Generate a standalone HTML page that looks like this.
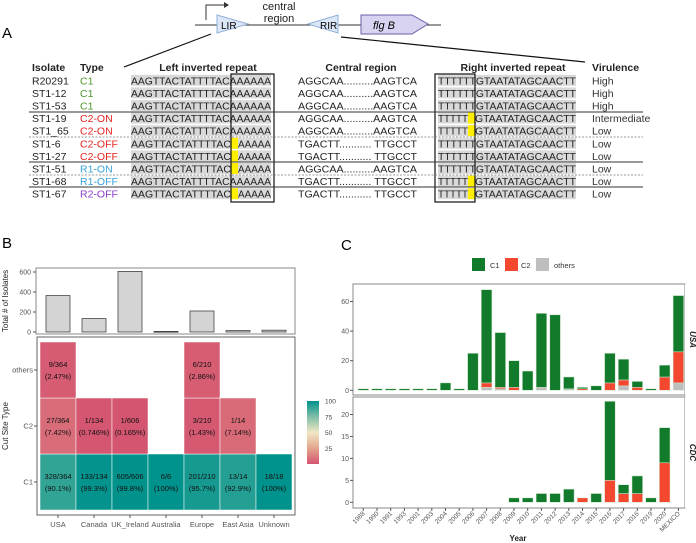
<!DOCTYPE html>
<html><head><meta charset="utf-8"><style>
html,body{margin:0;padding:0;background:#fff;}
svg{display:block;font-family:"Liberation Sans",sans-serif;}
</style></head><body>
<svg id="fig" width="696" height="543" viewBox="0 0 696 543" xmlns="http://www.w3.org/2000/svg">
<defs>
<linearGradient id="heatgrad" x1="0" y1="1" x2="0" y2="0">
<stop offset="0" stop-color="#d4546f"/><stop offset="0.25" stop-color="#e3a58c"/><stop offset="0.5" stop-color="#f1e7c6"/><stop offset="0.75" stop-color="#7fbfa6"/><stop offset="1" stop-color="#00928c"/>
</linearGradient>
</defs>
<!-- Panel A diagram -->
<g>
<text x="2" y="38" font-size="15">A</text>
<line x1="195" y1="25" x2="441" y2="25" stroke="#333" stroke-width="1"/>
<path d="M206 20 V5 H226" fill="none" stroke="#333" stroke-width="1"/>
<path d="M224 2 L229 5 L224 8 Z" fill="#333"/>
<polygon points="217,15 248,24 217,33" fill="#dde7f7" stroke="#8fb0d8"/>
<text x="221" y="29" font-size="10">LIR</text>
<text x="279" y="10" font-size="11" text-anchor="middle" fill="#222">central</text>
<text x="279" y="22" font-size="11" text-anchor="middle" fill="#222">region</text>
<polygon points="338,15 308,24 338,33" fill="#dde7f7" stroke="#8fb0d8"/>
<text x="320" y="29" font-size="10">RIR</text>
<polygon points="361,15 412,15 428,24 412,34 361,34" fill="#d8d3f0" stroke="#6b5fa8"/>
<text x="373" y="29" font-size="11" font-style="italic">flg B</text>
<line x1="211" y1="34" x2="124" y2="67" stroke="#111" stroke-width="1.2"/>
<line x1="341" y1="37" x2="585" y2="62" stroke="#111" stroke-width="1.2"/>
</g>
<g id="table" font-size="10.5" fill="#222"></g>
<!-- Panel B -->
<g id="panelB"></g>
<!-- Panel C -->
<g id="panelC"></g>
</svg>
<script>
// ===== Panel A table data =====
var isolates=["R20291","ST1-12","ST1-53","ST1-19","ST1_65","ST1-6","ST1-27","ST1-51","ST1-68","ST1-67"];
var types=["C1","C1","C1","C2-ON","C2-ON","C2-OFF","C2-OFF","R1-ON","R1-OFF","R2-OFF"];
var leftYellow=[0,0,0,0,0,1,1,1,0,1];
var rightYellow=[0,0,0,1,1,0,0,0,1,1];
var centralSeq=["AGGCAA..........AAGTCA","AGGCAA..........AAGTCA","AGGCAA..........AAGTCA","AGGCAA..........AAGTCA","AGGCAA..........AAGTCA","TGACTT........... TTGCCT","TGACTT........... TTGCCT","AGGCAA..........AAGTCA","TGACTT........... TTGCCT","TGACTT........... TTGCCT"];
var virulence=["High","High","High","Intermediate","Low","Low","Low","Low","Low","Low"];
var NS="http://www.w3.org/2000/svg";
function mk(tag,attrs,parent,txt){var e=document.createElementNS(NS,tag);for(var k in attrs)e.setAttribute(k,attrs[k]);if(txt!==undefined)e.textContent=txt;parent.appendChild(e);return e;}
function typeColor(t){if(t[0]==="R"&&t[1]==="1")return "#38a3d9";if(t[0]==="R")return "#8a3cc8";if(t.indexOf("C2")===0)return "#e3241f";return "#4a9a2a";}
(function(){
var g=document.getElementById('table');
var hdr=[["Isolate",32,"start"],["Type",80,"start"],["Left inverted repeat",208,"middle"],["Central region",361,"middle"],["Right inverted repeat",513,"middle"],["Virulence",592,"start"]];
hdr.forEach(function(h){var t=mk('text',{x:h[1],y:71,'text-anchor':h[2],'font-weight':'bold'},g,h[0]);

});
for(var i=0;i<isolates.length;i++){
var cy=80.3+12.6*i, by=cy+4;
var row=mk('g',{},g);


mk('rect',{x:131,y:cy-5.5,width:140,height:11,fill:'#d9d9d9'},row);
mk('rect',{x:438,y:cy-5.5,width:138,height:11,fill:'#d9d9d9'},row);
if(leftYellow[i])mk('rect',{x:231,y:cy-5.5,width:7,height:11,fill:'#ffee00'},row);
if(rightYellow[i])mk('rect',{x:468,y:cy-5.5,width:7,height:11,fill:'#ffee00'},row);
mk('text',{x:32,y:by},row,isolates[i]);
mk('text',{x:80,y:by,fill:typeColor(types[i])},row,types[i]);
if(leftYellow[i]){mk('text',{x:131,y:by,textLength:100,lengthAdjust:'spacingAndGlyphs'},row,"AAGTTACTATTTTAC");mk('text',{x:238,y:by,textLength:33,lengthAdjust:'spacingAndGlyphs'},row,"AAAAA");}
else mk('text',{x:131,y:by,textLength:140,lengthAdjust:'spacingAndGlyphs'},row,"AAGTTACTATTTTACAAAAAA");
mk('text',{x:298,y:by,textLength:119,lengthAdjust:'spacingAndGlyphs'},row,centralSeq[i]);
if(rightYellow[i]){mk('text',{x:438,y:by,textLength:30,lengthAdjust:'spacingAndGlyphs'},row,"TTTTT");mk('text',{x:475,y:by,textLength:101,lengthAdjust:'spacingAndGlyphs'},row,"GTAATATAGCAACTT");}
else mk('text',{x:438,y:by,textLength:138,lengthAdjust:'spacingAndGlyphs'},row,"TTTTTTGTAATATAGCAACTT");
mk('text',{x:592,y:by,fill:'#333'},row,virulence[i]);
}
mk('rect',{x:231,y:74,width:43,height:128,fill:'none',stroke:'#111','stroke-width':1.2},g);
mk('rect',{x:435,y:74,width:40,height:128,fill:'none',stroke:'#111','stroke-width':1.2},g);
[[112,0],[137,1],[162,0],[175,1],[187,0]].forEach(function(s){
mk('line',{x1:29,x2:643,y1:s[0],y2:s[0],stroke:s[1]?'#777':'#333','stroke-width':s[1]?0.7:1,'stroke-dasharray':s[1]?'2,1.5':''},g);});
})();

// ===== Panel B data =====
var regions=["USA","Canada","UK_Ireland","Australia","Europe","East Asia","Unknown"];
var totals=[364,134,606,6,210,14,18];
var c1Counts=[328,133,605,6,201,13,18];
var c2Counts=[27,1,1,0,3,1,0];
var otherCounts=[9,0,0,0,6,0,0];
var totalTicks=[0,200,400,600];
var siteTypes=["C1","C2","others"];
var legendTicks=[25,50,75,100];
function lerp(a,b,t){return Math.round(a+(b-a)*t);}
function heatColor(p){var stops=[[0,[212,84,111]],[25,[227,165,140]],[50,[241,231,198]],[75,[127,191,166]],[100,[0,146,140]]];
for(var i=0;i<stops.length-1;i++){if(p<=stops[i+1][0]){var t=(p-stops[i][0])/(stops[i+1][0]-stops[i][0]);var a=stops[i][1],b=stops[i+1][1];return 'rgb('+lerp(a[0],b[0],t)+','+lerp(a[1],b[1],t)+','+lerp(a[2],b[2],t)+')';}}return 'rgb(0,146,140)';}
(function(){
var g=document.getElementById('panelB');
var lab=mk('text',{x:2,y:248,'font-size':15},g,"B");


var X=function(i){return 58+36*i;};
var yT=function(v){return 332-v*(60/600);};
mk('rect',{x:36,y:268,width:259,height:66,fill:'#fff',stroke:'#888','stroke-width':1},g);
totalTicks.forEach(function(v){var t=mk('text',{x:31,y:yT(v)+2.5,'font-size':7,'text-anchor':'end',fill:'#555'},g,v);


mk('line',{x1:33,x2:36,y1:yT(v),y2:yT(v),stroke:'#555'},g);});
var yt=mk('text',{x:0,y:0,'font-size':8,'text-anchor':'middle',fill:'#222',transform:'translate(8,301) rotate(-90)'},g,"Total # of Isolates");


totals.forEach(function(v,i){var r=mk('rect',{x:X(i)-12,y:yT(v),width:24,height:Math.max(yT(0)-yT(v),0.8),fill:'#d4d4d4',stroke:'#444','stroke-width':0.8},g);

});
// heatmap
mk('rect',{x:37,y:337,width:258,height:178,fill:'#fff',stroke:'#666','stroke-width':1},g);
var rowY={"C1":454,"C2":398,"others":342};
var rowC={"C1":482,"C2":426,"others":370};
var counts={"C1":c1Counts,"C2":c2Counts,"others":otherCounts};
siteTypes.forEach(function(s){
var t=mk('text',{x:33,y:rowC[s]+2.5,'font-size':7.5,'text-anchor':'end',fill:'#555'},g,s);


mk('line',{x1:34,x2:37,y1:rowC[s],y2:rowC[s],stroke:'#555'},g);
regions.forEach(function(r,i){var c=counts[s][i];if(!c)return;var p=c/totals[i]*100;
var cell=mk('rect',{x:X(i)-18,y:rowY[s],width:36,height:56,fill:heatColor(p),stroke:'#fff','stroke-width':0.5},g);


var pct=(p>=99.95?"100":(p<1?p.toFixed(3):p<10?p.toFixed(2):p.toFixed(1)));
if(p>=99.95)pct="100";
mk('text',{x:X(i),y:rowC[s]-3,'font-size':7.5,'text-anchor':'middle',fill:'#111'},g,c+"/"+totals[i]);
mk('text',{x:X(i),y:rowC[s]+9,'font-size':7.5,'text-anchor':'middle',fill:'#111'},g,"("+pct+"%)");});});
regions.forEach(function(r,i){var t=mk('text',{x:X(i),y:527,'font-size':7.5,'text-anchor':'middle',fill:'#555'},g,r);


mk('line',{x1:X(i),x2:X(i),y1:515,y2:518,stroke:'#555'},g);});
var ct=mk('text',{x:0,y:0,'font-size':8,'text-anchor':'middle',fill:'#222',transform:'translate(8,426) rotate(-90)'},g,"Cut Site Type");


var lg=mk('rect',{x:307,y:401,width:12,height:63,fill:'url(#heatgrad)'},g);


legendTicks.forEach(function(v){var y=464-v*0.63;mk('text',{x:325,y:y+2.5,'font-size':6.5,fill:'#444'},g,v);});
})();

// ===== Panel C data =====
var years=["1988","1990","1991","1993","2001","2003","2004","2005","2006","2007","2008","2009","2010","2011","2012","2013","2014","2015","2016","2017","2016","2019","2020","MEXICO"];
var usaC1=[1,1,1,1,1,1,5,1,25,63,37,18,13,50,51,8,1,3,20,14,4,1,8,38];
var usaC2=[0,0,0,0,0,0,0,0,0,3,1,2,0,0,0,0,1,0,5,4,2,0,9,21];
var usaOthers=[0,0,0,0,0,0,0,0,0,2,1,0,0,2,0,1,0,0,0,3,0,0,0,5];
var cdcC1=[0,0,0,0,0,0,0,0,0,0,0,1,1,2,2,3,0,2,18,2,4,1,8,0];
var cdcC2=[0,0,0,0,0,0,0,0,0,0,0,0,0,0,0,0,1,0,5,2,2,0,9,0];
var cdcOthers=[0,0,0,0,0,0,0,0,0,0,0,0,0,0,0,0,0,0,0,0,0,0,0,0];
var usaTicks=[0,20,40,60];
var cdcTicks=[0,5,10,15,20];
(function(){
var g=document.getElementById('panelC');
var lab=mk('text',{x:341,y:250,'font-size':15},g,"C");


var cols={C1:'#127a2b',C2:'#f4472f',others:'#bebebe'};
[["C1",472,490],["C2",505,521],["others",536,554]].forEach(function(l){
var r=mk('rect',{x:l[1],y:258,width:13,height:13,fill:cols[l[0]]},g);


mk('text',{x:l[2],y:268,'font-size':7.5,fill:'#333'},g,l[0]);});
var X=function(i){return 363.3+13.7*i;};
function panel(top,bot,zero,scale,ticks,c1,c2,ot,strip){
mk('rect',{x:353,y:top,width:332,height:bot-top,fill:'#fff',stroke:'#888','stroke-width':1},g);
mk('rect',{x:685,y:top,width:11,height:bot-top,fill:'#fff'},g);
var st=mk('text',{x:0,y:0,'font-size':8,'font-weight':'bold','font-style':'italic','text-anchor':'middle',fill:'#222',transform:'translate(690,'+((top+bot)/2)+') rotate(90)'},g,strip);


var Y=function(v){return zero-v*scale;};
ticks.forEach(function(v){var t=mk('text',{x:349,y:Y(v)+2.5,'font-size':7,'text-anchor':'end',fill:'#555'},g,v);


mk('line',{x1:350,x2:353,y1:Y(v),y2:Y(v),stroke:'#555'},g);});
years.forEach(function(y,i){var base=0;[[ot,'others'],[c2,'C2'],[c1,'C1']].forEach(function(s){var v=s[0][i];if(!v)return;
var r=mk('rect',{x:X(i)-5.3,y:Y(base+v),width:10.6,height:v*scale,fill:cols[s[1]],stroke:'#cfe8cf','stroke-width':0.5},g);


base+=v;});});
}
panel(284,395,390.3,1.48,usaTicks,usaC1,usaC2,usaOthers,"USA");
panel(397,508,502.3,4.39,cdcTicks,cdcC1,cdcC2,cdcOthers,"CDC");
years.forEach(function(y,i){mk('line',{x1:X(i),x2:X(i),y1:508,y2:511,stroke:'#555'},g);
var t=mk('text',{x:0,y:0,'font-size':6.5,'text-anchor':'end',fill:'#555',transform:'translate('+(X(i)+2)+',514) rotate(-45)'},g,y);

});
var xt=mk('text',{x:518,y:541,'font-size':8,'font-weight':'bold','text-anchor':'middle',fill:'#222'},g,"Year");


})();
</script>
</body></html>
